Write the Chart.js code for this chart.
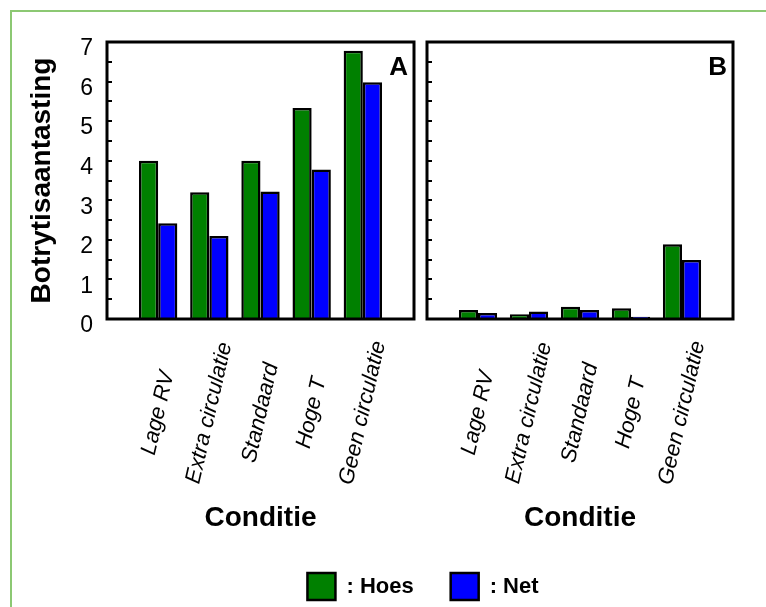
<!DOCTYPE html>
<html>
<head>
<meta charset="utf-8">
<script src="https://cdn.jsdelivr.net/npm/chart.js@4.4.1/dist/chart.umd.min.js"></script>
<style>
  html, body { margin: 0; padding: 0; background: #fff; }
  #page { position: relative; width: 766px; height: 607px; overflow: hidden; }
  #frame { position: absolute; left: 10px; top: 10px; right: 0; bottom: 0;
           border-top: 2px solid #8cc873; border-left: 2px solid #8cc873; }
  canvas { position: absolute; }
  #panelA { left: 0; top: 0; }
  #panelB { left: 420px; top: 0; }
  #legend { left: 0; top: 500px; }
</style>
</head>
<body>
<div id="page">
  <div id="frame"></div>
  <canvas id="panelA" width="420" height="545"></canvas>
  <canvas id="panelB" width="346" height="545"></canvas>
  <canvas id="legend" width="766" height="150"></canvas>
</div>
<script>
// Botrytis attack per growing condition: sleeve (Hoes) vs net (Net)
const categories = ['Lage RV', 'Extra circulatie', 'Standaard', 'Hoge T', 'Geen circulatie'];
const seriesNames = ['Hoes', 'Net'];
const hoesA = [4.0, 3.2, 4.0, 5.33, 6.78];
const netA  = [2.42, 2.1, 3.22, 3.78, 5.98];
const hoesB = [0.23, 0.12, 0.31, 0.27, 1.89];
const netB  = [0.15, 0.19, 0.23, 0.06, 1.49];
const yTicks = [0, 1, 2, 3, 4, 5, 6, 7];

const FONT = '"Liberation Sans", Arial, Helvetica, sans-serif';
const seriesColors = ['#008000', '#0000ff'];
Chart.defaults.font.family = FONT;
Chart.defaults.color = '#000';

// Box around the plot area, panel letter and slanted category names
const panelDecor = {
  id: 'panelDecor',
  afterDatasetsDraw(chart) {
    const { ctx, chartArea: a } = chart;
    ctx.save();
    ctx.strokeStyle = '#000';
    ctx.lineWidth = 3;
    ctx.strokeRect(a.left, a.top, a.right - a.left, a.bottom - a.top);
    ctx.restore();
  },
  afterDraw(chart, args, opts) {
    const { ctx, chartArea: a, scales: { x } } = chart;
    ctx.save();
    ctx.fillStyle = '#000';
    ctx.font = 'bold 26px ' + FONT;
    ctx.textAlign = 'right';
    ctx.textBaseline = 'alphabetic';
    ctx.fillText(opts.letter, a.right - 6, a.top + 33);
    ctx.font = 'italic 22px ' + FONT;
    ctx.textAlign = 'center';
    ctx.textBaseline = 'middle';
    categories.forEach((name, i) => {
      ctx.save();
      ctx.translate(x.getPixelForValue(i + 1), a.bottom + 94);
      ctx.rotate(-77 * Math.PI / 180);
      ctx.fillText(name, 0, 0);
      ctx.restore();
    });
    ctx.restore();
  }
};

function makePanel(id, letter, hoes, net, withYLabels, yWidth, padRight) {
  const values = [hoes, net];
  return new Chart(document.getElementById(id), {
    type: 'bar',
    data: {
      datasets: seriesNames.map((name, s) => ({
        label: name,
        data: values[s].map((v, i) => ({ x: i + 1, y: v })),
        backgroundColor: seriesColors[s],
        borderColor: '#000',
        borderWidth: 2.5,
        categoryPercentage: 0.75,
        barPercentage: 1
      }))
    },
    options: {
      responsive: false,
      animation: false,
      layout: { padding: { top: 42, right: padRight, bottom: 0, left: 0 } },
      plugins: {
        legend: { display: false },
        tooltip: { enabled: false },
        panelDecor: { letter }
      },
      scales: {
        x: {
          type: 'linear',
          offset: false,
          min: 0,
          max: categories.length + 1,
          afterFit: s => { s.height = 226; },
          border: { display: false },
          grid: { display: false },
          ticks: { display: false, stepSize: 1 },
          title: {
            display: true, text: 'Conditie', color: '#000',
            font: { size: 28, weight: 'bold' },
            padding: { top: 0, bottom: 10 }
          }
        },
        y: {
          min: yTicks[0],
          max: yTicks[yTicks.length - 1],
          afterFit: s => { s.width = yWidth; },
          border: { display: false },
          grid: { drawOnChartArea: false, drawTicks: true, tickLength: -5, color: '#000', lineWidth: 2 },
          ticks: {
            stepSize: 0.5, autoSkip: false, padding: 19, labelOffset: 7,
            color: '#000', font: { size: 23 },
            callback: v => (withYLabels && yTicks.includes(v)) ? String(v) : ''
          },
          title: {
            display: withYLabels, text: 'Botrytisaantasting', color: '#000',
            font: { size: 28, weight: 'bold' },
            padding: { top: 25, bottom: 0 }
          }
        }
      }
    },
    plugins: [panelDecor]
  });
}

makePanel('panelA', 'A', hoesA, netA, true, 107, 6);
makePanel('panelB', 'B', hoesB, netB, false, 7, 33);

// Shared legend under both panels
new Chart(document.getElementById('legend'), {
  type: 'bar',
  data: {
    labels: [],
    datasets: seriesNames.map((name, s) => ({
      label: name, data: [],
      backgroundColor: seriesColors[s], borderColor: '#000', borderWidth: 2.5
    }))
  },
  options: {
    responsive: false,
    animation: false,
    layout: { padding: { top: 36, left: 80 } },
    scales: { x: { display: false }, y: { display: false } },
    plugins: {
      tooltip: { enabled: false },
      legend: {
        display: true,
        position: 'top',
        maxHeight: 110,
        labels: {
          boxWidth: 28, boxHeight: 27, padding: 37, color: '#000',
          font: { size: 22, weight: 'bold' },
          generateLabels: c => Chart.defaults.plugins.legend.labels.generateLabels(c)
            .map(item => Object.assign(item, { text: ': ' + item.text }))
        }
      }
    }
  }
});
</script>
</body>
</html>
